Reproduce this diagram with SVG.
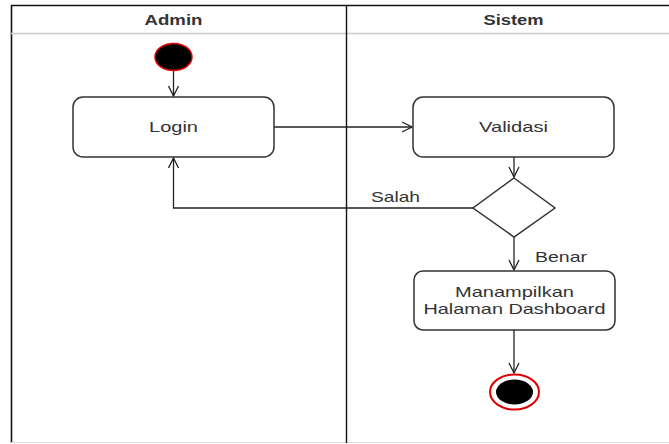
<svg xmlns="http://www.w3.org/2000/svg" width="669" height="444" viewBox="0 0 669 444">
  <style>
    .lbl { font-family: "Liberation Sans", Arial, sans-serif; font-size: 15px; fill: #333333; }
    .hdr { font-family: "Liberation Sans", Arial, sans-serif; font-size: 14px; font-weight: bold; fill: #333333; }
    .act { fill: #ffffff; stroke: #333333; stroke-width: 1.5; }
    .edge { fill: none; stroke: #222222; stroke-width: 1.3; }
  </style>
  <defs>
    <marker id="open" viewBox="0 0 12 12" refX="11" refY="6" markerWidth="12" markerHeight="12" markerUnits="userSpaceOnUse" orient="auto">
      <path d="M1,1 L11,6 L1,11" fill="none" stroke="#222222" stroke-width="1.3"/>
    </marker>
  </defs>

  <rect width="669" height="444" fill="#ffffff"/>

  <!-- swimlane frame -->
  <g id="lanes">
    <line x1="11" y1="5.5" x2="669" y2="5.5" stroke="#111111" stroke-width="1.6"/>
    <line x1="11.5" y1="5" x2="11.5" y2="443" stroke="#111111" stroke-width="1.6"/>
    <line x1="11" y1="33.5" x2="669" y2="33.5" stroke="#cccccc" stroke-width="1.5"/>
    <line x1="11" y1="442.5" x2="669" y2="442.5" stroke="#dddddd" stroke-width="1.2"/>
    <line x1="346.5" y1="5" x2="346.5" y2="443" stroke="#111111" stroke-width="1.4"/>
    <text class="hdr" x="173.5" y="25" text-anchor="middle" textLength="58" lengthAdjust="spacingAndGlyphs">Admin</text>
    <text class="hdr" x="513.5" y="25" text-anchor="middle" textLength="60" lengthAdjust="spacingAndGlyphs">Sistem</text>
  </g>

  <!-- connectors -->
  <g id="connectors">
    <path class="edge" d="M173.5,71 L173.5,96" marker-end="url(#open)"/>
    <path class="edge" d="M274,127 L412,127" marker-end="url(#open)"/>
    <path class="edge" d="M514,157 L514,177" marker-end="url(#open)"/>
    <path class="edge" d="M473,208 L173.5,208 L173.5,158" marker-end="url(#open)"/>
    <path class="edge" d="M514,237 L514,270" marker-end="url(#open)"/>
    <path class="edge" d="M514,330 L514,373" marker-end="url(#open)"/>
    <text class="lbl" x="371" y="202" textLength="49" lengthAdjust="spacingAndGlyphs">Salah</text>
    <text class="lbl" x="535" y="262" textLength="52" lengthAdjust="spacingAndGlyphs">Benar</text>
  </g>

  <g id="start">
    <ellipse cx="173.5" cy="57" rx="18.5" ry="13.5" fill="#000000" stroke="#e00000" stroke-width="1.5"/>
  </g>

  <g id="login">
    <rect class="act" x="73" y="97" width="201" height="60" rx="10"/>
    <text class="lbl" x="173.5" y="132" text-anchor="middle" textLength="49" lengthAdjust="spacingAndGlyphs">Login</text>
  </g>

  <g id="validasi">
    <rect class="act" x="413" y="97" width="201" height="60" rx="10"/>
    <text class="lbl" x="513.5" y="132" text-anchor="middle" textLength="69" lengthAdjust="spacingAndGlyphs">Validasi</text>
  </g>

  <g id="decision">
    <polygon class="act" points="514,178 555,208 514,237 473,208"/>
  </g>

  <g id="dashboard">
    <rect class="act" x="414" y="271" width="201" height="59" rx="9"/>
    <text class="lbl" x="514.5" y="297" text-anchor="middle" textLength="119" lengthAdjust="spacingAndGlyphs">Manampilkan</text>
    <text class="lbl" x="514.5" y="314" text-anchor="middle" textLength="182" lengthAdjust="spacingAndGlyphs">Halaman Dashboard</text>
  </g>

  <g id="end">
    <ellipse cx="514.5" cy="392" rx="24.5" ry="17.5" fill="#ffffff" stroke="#e00000" stroke-width="2"/>
    <ellipse cx="514.5" cy="392" rx="18.5" ry="12.5" fill="#000000"/>
  </g>
</svg>
